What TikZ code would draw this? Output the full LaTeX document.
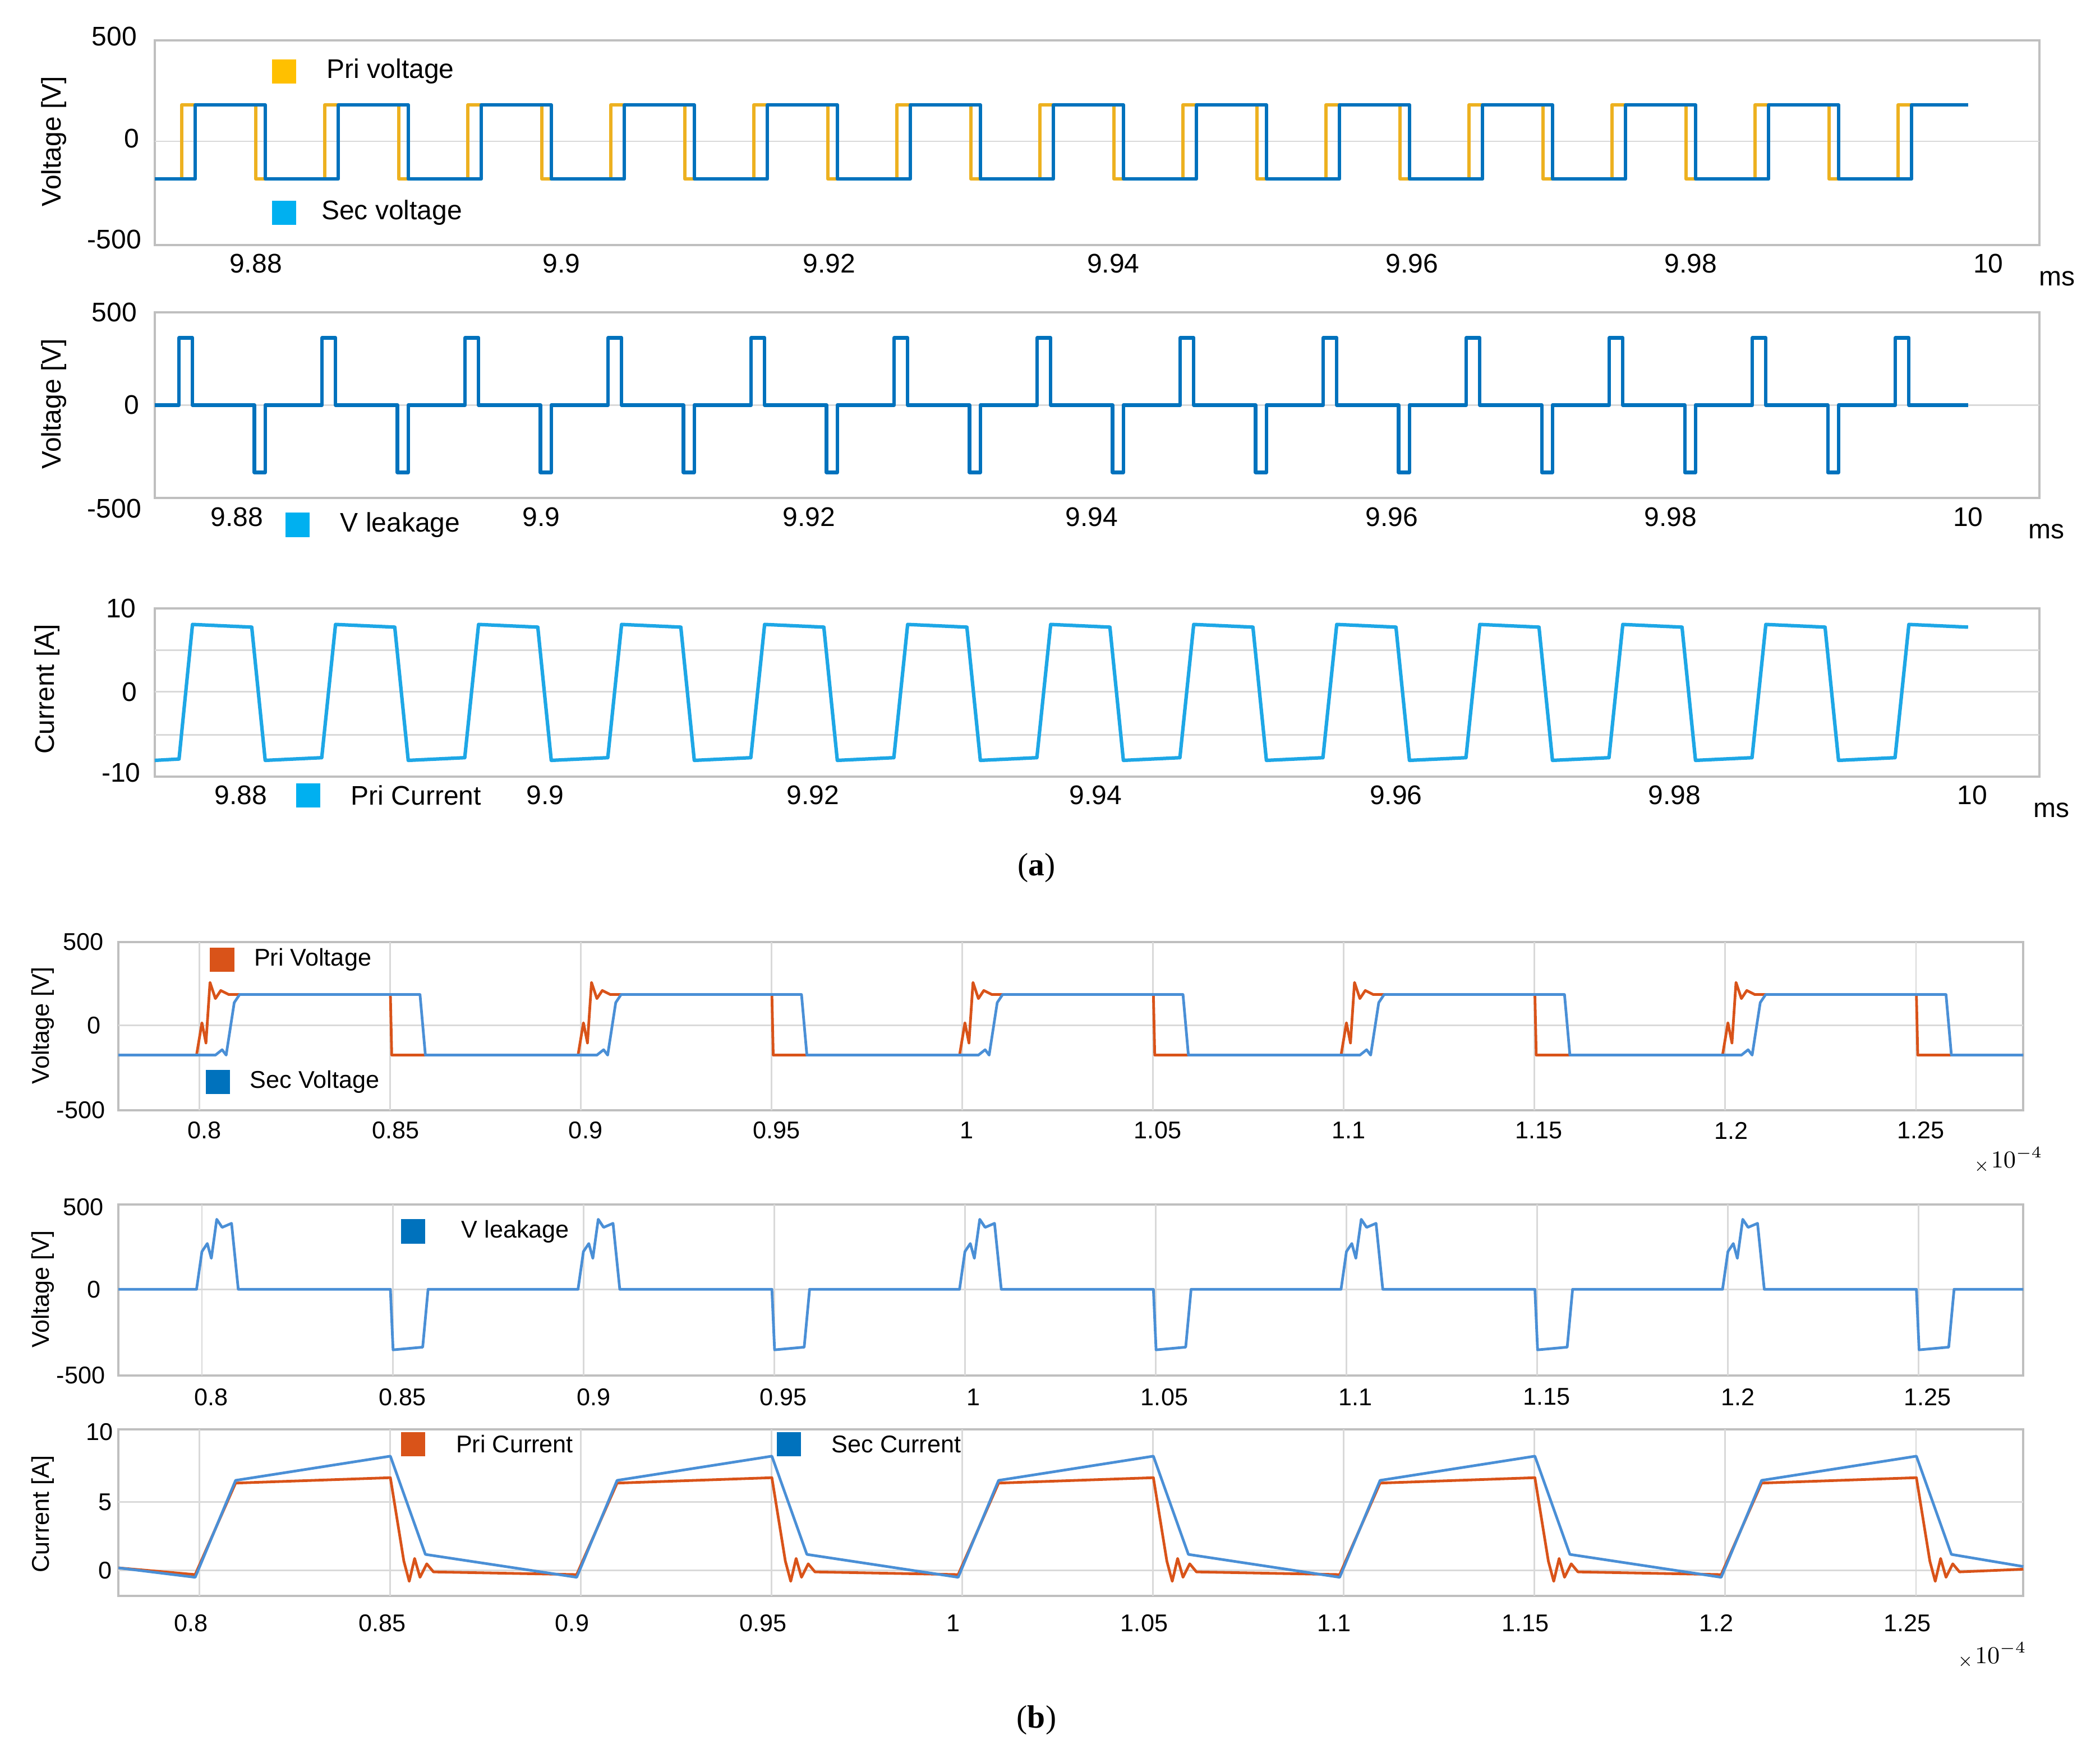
\documentclass[tikz,border=0pt]{standalone}
\usepackage{fontspec}
\setmainfont{Liberation Sans}
\newfontfamily\capfont{Liberation Serif}
\usetikzlibrary{positioning}
\definecolor{ayel}{HTML}{EDB120}
\definecolor{ablu}{HTML}{0072BD}
\definecolor{acur}{HTML}{1EA7E6}
\definecolor{sqyel}{HTML}{FFC000}
\definecolor{sqblu}{HTML}{00B0F0}
\definecolor{bora}{HTML}{D95319}
\definecolor{bblu}{HTML}{4A8FD6}
\tikzset{
  frame/.style={draw=black!25, line width=0.8pt},
  grid/.style={draw=black!15, line width=0.6pt},
  tick/.style={font=\fontsize{10}{12}\selectfont, inner sep=1pt},
  small/.style={font=\fontsize{9}{11}\selectfont, inner sep=1pt},
  ylab/.style={rotate=90, font=\fontsize{10}{12}\selectfont},
  wave/.style={line width=1.3pt, line join=round},
  swatch/.style={minimum size=9pt, inner sep=0pt},
  caption/.style={font=\capfont\fontsize{12}{14}\selectfont}
}
\begin{document}
\begin{tikzpicture}[x=0.5pt, y=-0.5pt]
\useasboundingbox (0,0) rectangle (1560,1310);
% ---------- panel (a), top plot
\draw[frame] (115,30) rectangle (1515,182);
\draw[grid] (115,105) -- (1515,105);
\node[tick] (a1t) at (85,27) {500};
\node[tick] (a1z) at (98,103) {0};
\node[tick] (a1b) at (85,178) {-500};
\node[ylab] (a1y) at (40,105) {Voltage [V]};
\foreach \x/\t in {190/9.88,417/9.9,616/9.92,827/9.94,1049/9.96,1256/9.98,1477/10}
  \node[tick] at (\x,196) {\t};
\node[tick] (a1ms) at (1528,207) {ms};
\draw[wave, ayel] (115,133) \foreach \k in {0,...,11}{
  -- ({135+106.25*\k},133) -- ++(0,-55) -- ({190+106.25*\k},78) -- ++(0,55)}
  -- (1410,133) -- (1410,78) -- (1462,78);
\draw[wave, ablu] (115,133) \foreach \k in {0,...,11}{
  -- ({145+106.25*\k},133) -- ++(0,-55) -- ({197+106.25*\k},78) -- ++(0,55)}
  -- (1420,133) -- (1420,78) -- (1462,78);
\node[swatch, fill=sqyel] (sqpri) at (211,53) {};
\node[tick, right=10pt of sqpri] (lpri) {Pri voltage};
\node[swatch, fill=sqblu] (sqsec) at (211,158) {};
\node[tick, right=8pt of sqsec] (lsec) {Sec voltage};
% ---------- panel (a), middle plot
\draw[frame] (115,232) rectangle (1515,370);
\draw[grid] (115,301) -- (1515,301);
\node[tick] (a2t) at (85,232) {500};
\node[tick] (a2z) at (98,301) {0};
\node[tick] (a2b) at (85,378) {-500};
\node[ylab] (a2y) at (40,300) {Voltage [V]};
\foreach \x/\t in {176/9.88,402/9.9,601/9.92,811/9.94,1034/9.96,1241/9.98,1462/10}
  \node[tick] at (\x,384) {\t};
\node[tick] (a2ms) at (1520,395) {ms};
\draw[wave, ablu] (115,301) \foreach \k in {0,...,11}{
  -- ({133+106.25*\k},301) -- ++(0,-50) -- ({143+106.25*\k},251) -- ++(0,50)
  -- ({189+106.25*\k},301) -- ++(0,50) -- ({197+106.25*\k},351) -- ++(0,-50)}
  -- (1408,301) -- (1408,251) -- (1418,251) -- (1418,301) -- (1462,301);
\node[swatch, fill=sqblu] (sqlk) at (221,390) {};
\node[tick, right=10pt of sqlk] (llk) {V leakage};
% ---------- panel (a), bottom plot
\draw[frame] (115,452) rectangle (1515,577);
\draw[grid] (115,483) -- (1515,483);
\draw[grid] (115,514) -- (1515,514);
\draw[grid] (115,546) -- (1515,546);
\node[tick] (a3t) at (90,452) {10};
\node[tick] (a3z) at (96,514) {0};
\node[tick] (a3b) at (90,574) {-10};
\node[ylab] (a3y) at (35,512) {Current [A]};
\foreach \x/\t in {179/9.88,405/9.9,604/9.92,814/9.94,1037/9.96,1244/9.98,1465/10}
  \node[tick] at (\x,591) {\t};
\node[tick] (a3ms) at (1524,602) {ms};
\draw[wave, acur] (115,565) -- (133,564) \foreach \k in {0,...,11}{
  -- ({143+106.25*\k},464) -- ({187+106.25*\k},466)
  -- ({197+106.25*\k},565) -- ({239+106.25*\k},563)}
  -- (1418,464) -- (1462,466);
\node[swatch, fill=sqblu] (sqcur) at (229,591) {};
\node[tick, right=10pt of sqcur] (lcur) {Pri Current};
\node[caption] (capa) at (770,645) {(\textbf{a})};
% ---------- panel (b), top plot
\draw[frame] (88,700) rectangle (1503,825);
\foreach \k in {0,...,9} \draw[grid] ({148+141.7*\k},700) -- ++(0,125);
\draw[grid] (88,762) -- (1503,762);
\node[small] (b1t) at (62,700) {500};
\node[small] (b1z) at (70,762) {0};
\node[small] (b1b) at (60,825) {-500};
\node[ylab, small] (b1y) at (32,762) {Voltage [V]};
\foreach \x/\t in {152/0.8,294/0.85,435/0.9,577/0.95,718/1,860/1.05,1002/1.1,1143/1.15,1286/1.2,1427/1.25}
  \node[small] at (\x,840) {\t};
\node[small] (b1e) at (1492,862) {${}_\times10^{-4}$};
\draw[wave, bora, line width=1pt] (88,784) \foreach \k in {0,...,4}{
  -- ({146+283.4*\k},784) -- ({150+283.4*\k},760) -- ({153+283.4*\k},775)
  -- ({156+283.4*\k},730) -- ({160+283.4*\k},742) -- ({164+283.4*\k},736)
  -- ({170+283.4*\k},739) -- ({290+283.4*\k},739) -- ({291+283.4*\k},784)}
  -- (1503,784);
\draw[wave, bblu, line width=1pt] (88,784) \foreach \k in {0,...,4}{
  -- ({160+283.4*\k},784) -- ({165+283.4*\k},780) -- ({168+283.4*\k},784)
  -- ({174+283.4*\k},745) -- ({178+283.4*\k},739) -- ({312+283.4*\k},739)
  -- ({316+283.4*\k},784)}
  -- (1503,784);
\node[swatch, fill=bora] (sqbpri) at (165,713) {};
\node[small, right=6pt of sqbpri] (lbpri) {Pri Voltage};
\node[swatch, fill=ablu] (sqbsec) at (162,804) {};
\node[small, right=6pt of sqbsec] (lbsec) {Sec Voltage};
% ---------- panel (b), middle plot
\draw[frame] (88,895) rectangle (1503,1022);
\foreach \k in {0,...,9} \draw[grid] ({150+141.7*\k},895) -- ++(0,127);
\draw[grid] (88,958) -- (1503,958);
\node[small] (b2t) at (62,897) {500};
\node[small] (b2z) at (70,958) {0};
\node[small] (b2b) at (60,1022) {-500};
\node[ylab, small] (b2y) at (32,958) {Voltage [V]};
\foreach \x/\t in {157/0.8,299/0.85,441/0.9,582/0.95,723/1,865/1.05,1007/1.1,1149/1.15,1291/1.2,1432/1.25}
  \node[small] at (\x,1038) {\t};
\draw[wave, bblu, line width=1pt] (88,958) \foreach \k in {0,...,4}{
  -- ({146+283.4*\k},958) -- ({150+283.4*\k},930) -- ({154+283.4*\k},924)
  -- ({157+283.4*\k},935) -- ({161+283.4*\k},906) -- ({165+283.4*\k},912)
  -- ({172+283.4*\k},909) -- ({177+283.4*\k},958)
  -- ({290+283.4*\k},958) -- ({292+283.4*\k},1003) -- ({314+283.4*\k},1001)
  -- ({318+283.4*\k},958)}
  -- (1503,958);
\node[swatch, fill=ablu] (sqblk) at (307,915) {};
\node[small, right=12pt of sqblk] (lblk) {V leakage};
% ---------- panel (b), bottom plot
\draw[frame] (88,1062) rectangle (1503,1186);
\foreach \k in {0,...,9} \draw[grid] ({148+141.7*\k},1062) -- ++(0,124);
\draw[grid] (88,1116) -- (1503,1116);
\draw[grid] (88,1167) -- (1503,1167);
\node[small] (b3t) at (74,1064) {10};
\node[small] (b3f) at (78,1116) {5};
\node[small] (b3z) at (78,1167) {0};
\node[ylab, small] (b3y) at (32,1125) {Current [A]};
\foreach \x/\t in {142/0.8,284/0.85,425/0.9,567/0.95,708/1,850/1.05,991/1.1,1133/1.15,1275/1.2,1417/1.25}
  \node[small] at (\x,1206) {\t};
\node[small] (b3e) at (1480,1230) {${}_\times10^{-4}$};
\draw[wave, bora, line width=1pt] (88,1165) \foreach \k in {0,...,4}{
  -- ({145+283.4*\k},1170) -- ({175+283.4*\k},1102) -- ({290+283.4*\k},1098)
  -- ({300+283.4*\k},1160) -- ({304+283.4*\k},1175) -- ({308+283.4*\k},1158)
  -- ({312+283.4*\k},1172) -- ({317+283.4*\k},1162) -- ({322+283.4*\k},1168)}
  -- (1503,1166);
\draw[wave, bblu, line width=1pt] (88,1165) \foreach \k in {0,...,4}{
  -- ({145+283.4*\k},1172) -- ({175+283.4*\k},1100) -- ({290+283.4*\k},1082)
  -- ({316+283.4*\k},1155)}
  -- (1503,1164);
\node[swatch, fill=bora] (sqbpc) at (307,1073) {};
\node[small, right=10pt of sqbpc] (lbpc) {Pri Current};
\node[swatch, fill=ablu] (sqbsc) at (586,1073) {};
\node[small, right=10pt of sqbsc] (lbsc) {Sec Current};
\node[caption] (capb) at (770,1278) {(\textbf{b})};
\end{tikzpicture}
\end{document}
